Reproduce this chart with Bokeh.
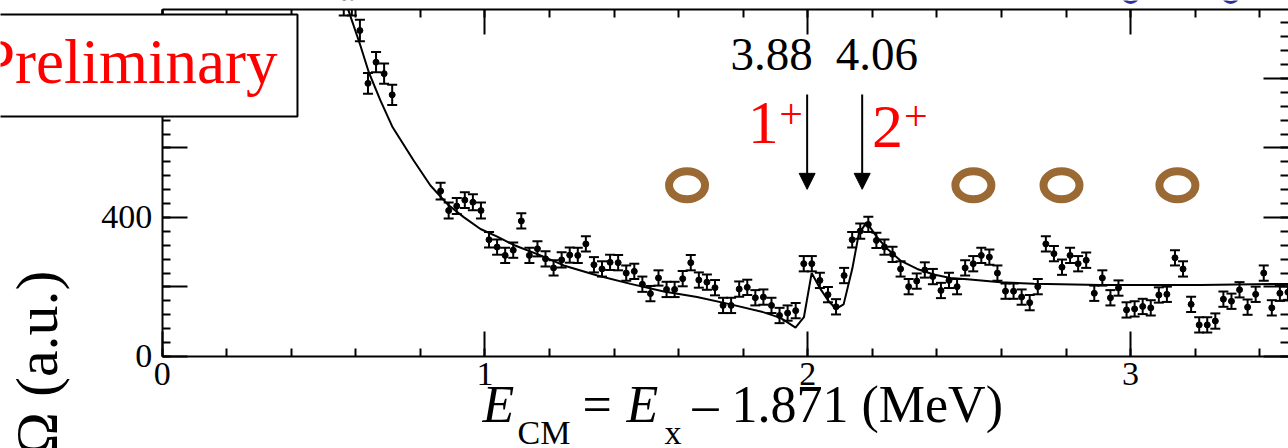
from bokeh.plotting import figure
from bokeh.models import (LinearAxis, SingleIntervalTicker, Label, Arrow,
                          NormalHead, ColumnDataSource, Range1d)
from bokeh.embed import file_html
from bokeh.resources import INLINE

# ---------------- data ----------------
energy = [0.5625, 0.5875, 0.6125, 0.6375, 0.6625, 0.6875, 0.7125,
          0.8625, 0.8875, 0.9125, 0.9375, 0.9625, 0.9875,
          1.0125, 1.0375, 1.0625, 1.0875, 1.1125, 1.1375, 1.1625, 1.1875, 1.2125, 1.2375,
          1.2625, 1.2875, 1.3125, 1.3375, 1.3625, 1.3875, 1.4125, 1.4375, 1.4625, 1.4875,
          1.5125, 1.5375, 1.5625, 1.5875, 1.6125, 1.6375, 1.6625, 1.6875, 1.7125, 1.7375,
          1.7625, 1.7875, 1.8125, 1.8375, 1.8625, 1.8875, 1.9125, 1.9375, 1.9625, 1.9875,
          2.0125, 2.0375, 2.0625, 2.0875, 2.1125, 2.1375, 2.1625, 2.1875, 2.2125, 2.2375,
          2.2625, 2.2875, 2.3125, 2.3375, 2.3625, 2.3875, 2.4125, 2.4375, 2.4625, 2.4875,
          2.5125, 2.5375, 2.5625, 2.5875, 2.6125, 2.6375, 2.6625, 2.6875, 2.7125, 2.7375,
          2.7625, 2.7875, 2.8125, 2.8375, 2.8625, 2.8875, 2.9125, 2.9375, 2.9625, 2.9875,
          3.0125, 3.0375, 3.0625, 3.0875, 3.1125, 3.1375, 3.1625, 3.1875, 3.2125, 3.2375,
          3.2625, 3.2875, 3.3125, 3.3375, 3.3625, 3.3875, 3.4125, 3.4375, 3.4625, 3.4875]

counts = [1015, 1015, 938, 786, 847, 814, 753,
          476, 420, 433, 450, 444, 420,
          336, 315, 291, 306, 390, 291, 310, 281, 255, 278,
          292, 291, 324, 264, 252, 271, 270, 240, 245, 208,
          181, 226, 193, 193, 224, 270, 220, 214, 198, 147,
          147, 194, 199, 169, 171, 147, 118, 125, 132, 267,
          267, 219, 178, 143, 233, 336, 361, 380, 334, 315,
          294, 252, 201, 217, 249, 230, 190, 219, 201, 255,
          267, 291, 286, 240, 188, 188, 171, 155, 201, 324,
          296, 257, 291, 267, 277, 182, 226, 169, 197, 134,
          137, 144, 140, 177, 179, 284, 252, 150, 91, 91,
          102, 165, 159, 192, 142, 179, 240, 140, 182, 185]

errors = [34, 34, 31, 30, 29, 29, 29,
          24, 23, 23, 23, 23, 23,
          22, 22, 22, 22, 22, 22, 22, 22, 22, 22,
          22, 22, 22, 22, 22, 22, 22, 22, 22, 22,
          22, 22, 22, 22, 22, 22, 22, 22, 22, 22,
          22, 22, 22, 22, 22, 22, 22, 22, 22, 22,
          22, 22, 22, 22, 22, 22, 22, 22, 22, 22,
          22, 22, 22, 22, 22, 22, 22, 22, 22, 22,
          22, 22, 22, 22, 22, 22, 22, 22, 22, 22,
          22, 22, 22, 22, 22, 22, 22, 22, 22, 22,
          22, 22, 22, 22, 22, 22, 22, 22, 22, 22,
          22, 22, 22, 22, 22, 22, 22, 22, 22, 22]

fit_x = [0.55, 0.577, 0.614, 0.640, 0.676, 0.7125, 0.779, 0.831, 0.883, 0.934,
         0.986, 1.038, 1.089, 1.172, 1.244, 1.348, 1.451, 1.554, 1.657, 1.761,
         1.864, 1.915, 1.936, 1.962, 1.988, 2.012, 2.036, 2.063, 2.087, 2.111,
         2.138, 2.158, 2.182, 2.215, 2.246, 2.287, 2.339, 2.390, 2.442, 2.494,
         2.597, 2.700, 2.907, 3.217, 3.489]
fit_y = [1070, 996, 895, 818, 737, 662, 564, 492, 439, 401,
         367, 345, 321, 291, 262, 233, 209, 187, 171, 150,
         127, 111, 99, 83, 113, 240, 199, 161, 137, 150,
         253, 353, 386, 343, 310, 276, 252, 236, 226, 222,
         214, 209, 206, 206, 209]

ring_x = [1.626, 2.513, 2.786, 3.145]
ring_y = [493, 493, 493, 493]

state_energy = ["3.88", "4.06"]
state_label_x = [1.888, 2.214]
arrow_x = [1.998, 2.1685]
spin = ["1", "2"]

x_ticks_interval = 1
y_ticks_interval = 200

# plotted window (the frame of the original figure) and visible canvas window
X0, X1 = 0.0, 3.4892
Y0, Y1 = 0.0, 998.6
VIEW_X = (-0.5009, 3.4892)
VIEW_Y = (-264.75, 1024.46)

SERIF = "Liberation Serif"
BROWN = "#9b6933"
BLUE = "#2e2e9c"

# ---------------- figure ----------------
p = figure(width=1288, height=448, x_range=Range1d(*VIEW_X), y_range=Range1d(*VIEW_Y),
           output_backend="svg", toolbar_location=None,
           min_border_left=0, min_border_right=0, min_border_top=0, min_border_bottom=0)
p.grid.visible = False
p.outline_line_color = None
p.background_fill_color = "white"
p.border_fill_color = "white"


def style_axis(ax, show_labels, line=True):
    ax.axis_line_width = 2
    ax.axis_line_color = "black" if line else None
    ax.major_tick_line_width = 2
    ax.minor_tick_line_width = 2
    ax.major_tick_in = 25
    ax.major_tick_out = 0
    ax.minor_tick_in = 8
    ax.minor_tick_out = 0
    if show_labels:
        ax.major_label_text_font = SERIF
        ax.major_label_text_font_size = "34px"
        ax.major_label_text_color = "black"
    else:
        ax.major_label_text_color = None


xb = p.xaxis[0]
xb.ticker = SingleIntervalTicker(interval=x_ticks_interval, num_minor_ticks=5)
xb.fixed_location = Y0
xb.bounds = (X0, X1)
style_axis(xb, True)
xb.major_label_standoff = 7

yl = p.yaxis[0]
yl.ticker = SingleIntervalTicker(interval=y_ticks_interval, num_minor_ticks=5)
yl.fixed_location = X0
yl.bounds = (Y0, Y1)
style_axis(yl, True)
yl.major_label_standoff = 10
yl.major_label_overrides = {200: "", 600: ""}

xt = LinearAxis(ticker=SingleIntervalTicker(interval=x_ticks_interval, num_minor_ticks=5),
                fixed_location=Y1, bounds=(X0, X1))
style_axis(xt, False)
p.add_layout(xt, "above")

yr = LinearAxis(ticker=SingleIntervalTicker(interval=y_ticks_interval, num_minor_ticks=5),
                fixed_location=X1, bounds=(Y0, Y1))
style_axis(yr, False, line=False)
p.add_layout(yr, "right")

# ---------------- glyphs ----------------
src = ColumnDataSource(dict(
    x=energy, y=counts,
    lo=[c - e for c, e in zip(counts, errors)],
    hi=[c + e for c, e in zip(counts, errors)],
))

p.line(fit_x, fit_y, line_color="black", line_width=2)
p.segment(x0="x", y0="lo", x1="x", y1="hi", source=src, line_color="black", line_width=2)
p.scatter(x="x", y="lo", source=src, marker="dash", size=10, line_color="black", line_width=2)
p.scatter(x="x", y="hi", source=src, marker="dash", size=10, line_color="black", line_width=2)
p.scatter(x="x", y="y", source=src, marker="circle", size=6, color="black")

# nothing of the data is drawn above the frame of the original panel
p.quad(left=VIEW_X[0] - 0.1, right=VIEW_X[1] + 0.1, bottom=Y1 + 1, top=VIEW_Y[1] + 50,
       fill_color="white", line_color=None)

# bottoms of the blue symbols of the panel above
p.ellipse(x=[3.0, 3.31], y=[1036, 1036], width=14, height=12,
          width_units="screen", height_units="screen",
          fill_color=None, line_color=BLUE, line_width=3)

p.ellipse(x=ring_x, y=ring_y, width=36, height=28, width_units="screen", height_units="screen",
          fill_color=None, line_color=BROWN, line_width=8)

# arrows
for ax_ in arrow_x:
    p.add_layout(Arrow(x_start=ax_, y_start=754, x_end=ax_, y_end=481,
                       line_color="black", line_width=2,
                       end=NormalHead(size=16, fill_color="black", line_color="black", line_width=1)))

# state energies
for lx, txt in zip(state_label_x, state_energy):
    p.add_layout(Label(x=lx, y=868.5, text=txt, text_align="center", text_baseline="middle",
                       text_font=SERIF, text_font_size="47px", text_color="black"))

# spin-parity labels
p.add_layout(Label(x=1.862, y=671.7, text=spin[0], text_align="center", text_baseline="middle",
                   text_font=SERIF, text_font_size="62px", text_color="red"))
p.add_layout(Label(x=1.948, y=697, text="+", text_align="center", text_baseline="middle",
                   text_font=SERIF, text_font_size="42px", text_color="red"))
p.add_layout(Label(x=2.247, y=661, text=spin[1], text_align="center", text_baseline="middle",
                   text_font=SERIF, text_font_size="62px", text_color="red"))
p.add_layout(Label(x=2.335, y=692.7, text="+", text_align="center", text_baseline="middle",
                   text_font=SERIF, text_font_size="42px", text_color="red"))

# Preliminary box
p.add_layout(Label(x=0.4191, y=837.4, text="Preliminary", text_align="right", text_baseline="middle",
                   text_font=SERIF, text_font_size="63px", text_color="red",
                   background_fill_color="white", border_line_color="black", border_line_width=2,
                   padding=(16, 20, 12, 20)))

# y-axis title (rotated)
p.add_layout(Label(x=-0.3869, y=247.5, text="dσ/dΩ (a.u.)", angle=90, angle_units="deg",
                   text_align="right", text_baseline="middle",
                   text_font=SERIF, text_font_size="60px", text_color="black"))

# x-axis title pieces
base_y = -136.7
sub_y = -220.1


def px(v):
    return (v - 161.7) / 322.8


def xlabel_piece(xpix, y, txt, size, italic=False):
    p.add_layout(Label(x=px(xpix), y=y, text=txt, text_font=SERIF,
                       text_font_style="italic" if italic else "normal",
                       text_font_size=size, text_baseline="middle", text_color="black"))


xlabel_piece(482, base_y, "E", "52px", italic=True)
xlabel_piece(517, sub_y, "CM", "34px")
xlabel_piece(582, base_y, "=", "52px")
xlabel_piece(626, base_y, "E", "52px", italic=True)
xlabel_piece(664, sub_y, "x", "34px")
xlabel_piece(692, base_y, "\u2013 1.871 (MeV)", "52px")

open("out.html", "w").write(file_html(p, INLINE))
